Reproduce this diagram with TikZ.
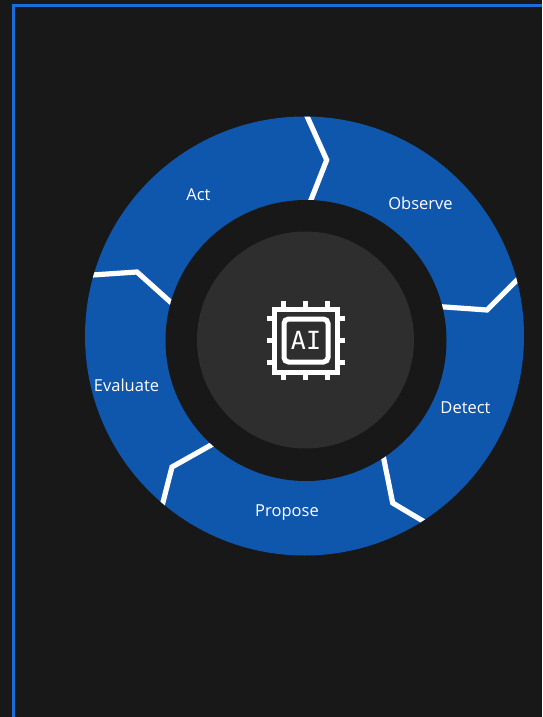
\documentclass[tikz,border=0pt]{standalone}
\usepackage{fontspec}
\setmainfont{Open Sans}
\newfontfamily\chipfont{DejaVu Sans Mono}
\definecolor{bg}{HTML}{181818}
\definecolor{framec}{HTML}{1A6DD6}
\definecolor{ringc}{HTML}{0F56AD}
\definecolor{corec}{HTML}{2E2E2E}
\tikzset{
  seglabel/.style={text=white,inner sep=0pt,font=\fontsize{16.5}{20}\selectfont},
  sepline/.style={draw=white,line width=5.2pt,line join=miter},
  chipline/.style={draw=white,line width=5pt},
}
\begin{document}
\begin{tikzpicture}[x=1pt,y=-1pt]
\useasboundingbox (0,0) rectangle (542,717);
\fill[bg] (0,0) rectangle (542,717);
\draw[framec,line width=3pt] (13,717) -- (13,6) -- (542,6);
\fill[ringc] (304.5,336) circle[radius=219.5];
\begin{scope}
\clip (304.5,336) circle[radius=219.5];
\draw[sepline] (306.5,115) -- (326.7,160) -- (309,205);
\draw[sepline] (438,306.5) -- (487,310) -- (522,275);
\draw[sepline] (382,450) -- (392.7,503) -- (428,524);
\draw[sepline] (220,440) -- (172,467) -- (161,510);
\draw[sepline] (88,275.3) -- (137,272) -- (176,307);
\end{scope}
\fill[bg] (306,340.5) circle[radius=140.5];
\fill[corec] (305.5,340) circle[radius=108.5];
\node[seglabel] (observe) at (420.5,203.5) {Observe};
\node[seglabel] (act) at (198.5,195) {Act};
\node[seglabel] (detect) at (465.5,408) {Detect};
\node[seglabel] (propose) at (287,513) {Propose};
\node[seglabel] (evaluate) at (126.5,385) {Evaluate};
\draw[chipline] (274,309) rectangle (337,372);
\draw[chipline,rounded corners=4.5pt] (284,319) rectangle (328,362);
\foreach \p in {283.3,305.5,327.5}{
  \draw[chipline] (\p,301) -- (\p,309);
  \draw[chipline] (\p,372) -- (\p,379.5);
}
\foreach \p in {318.3,340.3,362.3}{
  \draw[chipline] (266.5,\p) -- (274,\p);
  \draw[chipline] (337,\p) -- (344.5,\p);
}
\node[text=white,inner sep=0pt,font=\chipfont\fontsize{25}{25}\selectfont] (ai) at (306,340.5) {AI};
\end{tikzpicture}
\end{document}
